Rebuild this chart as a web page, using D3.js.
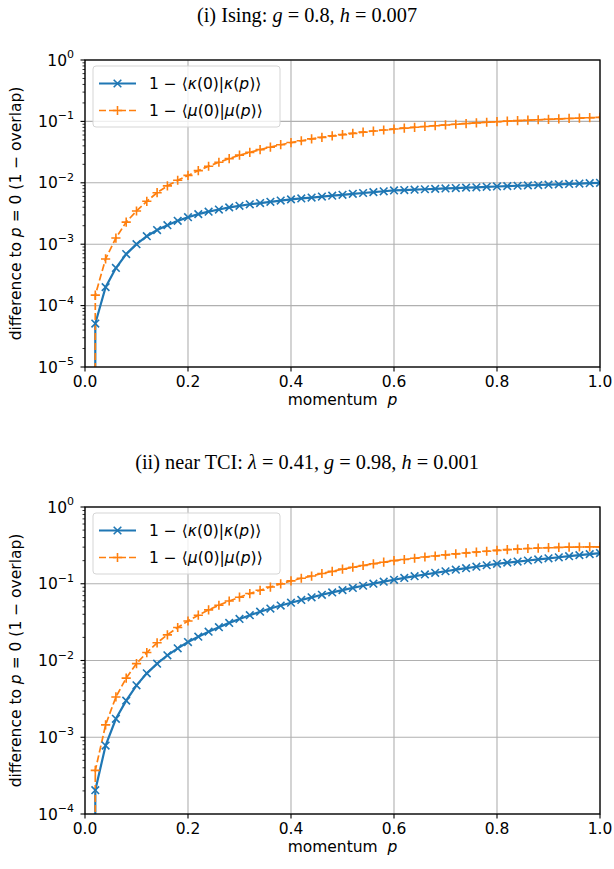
<!DOCTYPE html>
<html>
<head>
<meta charset="utf-8">
<script src="https://cdn.jsdelivr.net/npm/d3@7"></script>
<style>
  body { margin: 0; background: #fff; }
  svg { display: block; }
  text { font-family: "DejaVu Sans", sans-serif; }
  .ttl { font-family: "Liberation Serif", serif; }
</style>
</head>
<body>
<svg id="fig" width="614" height="869"></svg>
<script>
// momentum grid (p = 0 has difference 0, clipped on the log axis)
const momentum = [0, 0.02, 0.04, 0.06, 0.08, 0.10, 0.12, 0.14, 0.16, 0.18, 0.20,
  0.22, 0.24, 0.26, 0.28, 0.30, 0.32, 0.34, 0.36, 0.38, 0.40,
  0.42, 0.44, 0.46, 0.48, 0.50, 0.52, 0.54, 0.56, 0.58, 0.60,
  0.62, 0.64, 0.66, 0.68, 0.70, 0.72, 0.74, 0.76, 0.78, 0.80,
  0.82, 0.84, 0.86, 0.88, 0.90, 0.92, 0.94, 0.96, 0.98, 1.00]

// (i) Ising
const isingKappa = [0, 5.1e-5, 2.0e-4, 4.1e-4, 6.9e-4, 1.0e-3, 1.35e-3, 1.70e-3, 2.04e-3, 2.40e-3, 2.75e-3,
  3.09e-3, 3.39e-3, 3.67e-3, 3.98e-3, 4.22e-3, 4.47e-3, 4.68e-3, 4.90e-3, 5.13e-3, 5.37e-3,
  5.56e-3, 5.75e-3, 5.96e-3, 6.17e-3, 6.38e-3, 6.61e-3, 6.82e-3, 7.05e-3, 7.28e-3, 7.50e-3,
  7.62e-3, 7.73e-3, 7.85e-3, 7.96e-3, 8.09e-3, 8.20e-3, 8.34e-3, 8.45e-3, 8.59e-3, 8.71e-3,
  8.83e-3, 8.95e-3, 9.08e-3, 9.20e-3, 9.33e-3, 9.46e-3, 9.59e-3, 9.72e-3, 9.86e-3, 1.0e-2]
const isingMu = [0, 1.48e-4, 5.75e-4, 1.26e-3, 2.29e-3, 3.47e-3, 5.0e-3, 6.9e-3, 8.9e-3, 1.10e-2, 1.32e-2,
  1.58e-2, 1.86e-2, 2.16e-2, 2.48e-2, 2.82e-2, 3.13e-2, 3.47e-2, 3.80e-2, 4.17e-2, 4.52e-2,
  4.84e-2, 5.19e-2, 5.50e-2, 5.82e-2, 6.10e-2, 6.38e-2, 6.68e-2, 6.97e-2, 7.24e-2, 7.50e-2,
  7.76e-2, 8.02e-2, 8.26e-2, 8.51e-2, 8.75e-2, 8.99e-2, 9.23e-2, 9.46e-2, 9.68e-2, 9.89e-2,
  0.1009, 0.1028, 0.1047, 0.1064, 0.1081, 0.1099, 0.1117, 0.1132, 0.1148, 0.1161]

// (ii) near TCI
const tciKappa = [0, 2.04e-4, 7.8e-4, 1.74e-3, 3.0e-3, 4.75e-3, 6.8e-3, 9.1e-3, 1.17e-2, 1.44e-2, 1.74e-2,
  2.04e-2, 2.37e-2, 2.72e-2, 3.09e-2, 3.48e-2, 3.89e-2, 4.32e-2, 4.75e-2, 5.20e-2, 5.66e-2,
  6.15e-2, 6.65e-2, 7.18e-2, 7.71e-2, 8.26e-2, 8.83e-2, 9.42e-2, 0.1002, 0.1064, 0.1127,
  0.1191, 0.1256, 0.1321, 0.1387, 0.1455, 0.1524, 0.1596, 0.1667, 0.1742, 0.1820,
  0.1884, 0.1945, 0.2009, 0.2075, 0.2143, 0.2213, 0.2286, 0.2360, 0.2432, 0.2512]
const tciMu = [0, 3.7e-4, 1.45e-3, 3.35e-3, 5.9e-3, 9.1e-3, 1.27e-2, 1.70e-2, 2.16e-2, 2.69e-2, 3.27e-2,
  3.89e-2, 4.57e-2, 5.25e-2, 5.96e-2, 6.68e-2, 7.45e-2, 8.22e-2, 9.06e-2, 9.95e-2, 0.109,
  0.118, 0.126, 0.136, 0.145, 0.155, 0.164, 0.173, 0.182, 0.191, 0.200,
  0.207, 0.215, 0.223, 0.230, 0.238, 0.245, 0.252, 0.259, 0.265, 0.272,
  0.278, 0.283, 0.288, 0.292, 0.295, 0.298, 0.300, 0.301, 0.302, 0.302]

const xTicks = [0, 0.2, 0.4, 0.6, 0.8, 1.0]
const yExp1 = [0, -1, -2, -3, -4, -5]
const yExp2 = [0, -1, -2, -3, -4]

const blue = '#1f77b4', orange = '#ff7f0e'
const fs = 15.5
const svg = d3.select('#fig')

function drawPanel(top, title, exps, kappa, mu, id) {
  const left = 85, right = 600, bottom = top + 307
  const x = d3.scaleLinear().domain([0, 1]).range([left, right])
  const ymin = Math.pow(10, d3.min(exps)), ymax = Math.pow(10, d3.max(exps))
  const y = d3.scaleLog().domain([ymin, ymax]).range([bottom, top])

  // title
  const t = svg.append('text').attr('class', 'ttl')
    .attr('x', 307).attr('y', top - 38).attr('text-anchor', 'middle')
    .attr('font-size', 20.3)
  title.forEach(s => {
    t.append('tspan').attr('font-style', s.it ? 'italic' : null).text(s.t)
  })

  svg.append('clipPath').attr('id', id)
    .append('rect').attr('x', left).attr('y', top).attr('width', right - left).attr('height', bottom - top)

  const g = svg.append('g')

  // grid
  g.selectAll('.gx').data(xTicks).join('line')
    .attr('x1', d => x(d)).attr('x2', d => x(d)).attr('y1', top).attr('y2', bottom)
    .attr('stroke', '#b0b0b0').attr('stroke-width', 1.1)
  g.selectAll('.gy').data(exps).join('line')
    .attr('x1', left).attr('x2', right).attr('y1', d => y(Math.pow(10, d))).attr('y2', d => y(Math.pow(10, d)))
    .attr('stroke', '#b0b0b0').attr('stroke-width', 1.1)

  // curves
  const pts = (vals) => momentum.map((p, i) => [p, Math.max(vals[i], 1e-300)])
  const line = d3.line().x(d => x(d[0])).y(d => y(d[1]))
  const cg = g.append('g').attr('clip-path', `url(#${id})`)
  cg.append('path').datum(pts(kappa)).attr('d', line)
    .attr('fill', 'none').attr('stroke', blue).attr('stroke-width', 2.2)
  cg.append('path').datum(pts(mu)).attr('d', line)
    .attr('fill', 'none').attr('stroke', orange).attr('stroke-width', 1.7)
    .attr('stroke-dasharray', '7,3')

  const xMark = 'M-3.8,-3.8L3.8,3.8M-3.8,3.8L3.8,-3.8'
  const pMark = 'M-4.6,0L4.6,0M0,-4.6L0,4.6'
  cg.selectAll('.mk').data(pts(kappa).filter(d => d[1] > 1e-200)).join('path')
    .attr('d', xMark).attr('transform', d => `translate(${x(d[0])},${y(d[1])})`)
    .attr('stroke', blue).attr('stroke-width', 1.6).attr('fill', 'none')
  cg.selectAll('.mm').data(pts(mu).filter(d => d[1] > 1e-200)).join('path')
    .attr('d', pMark).attr('transform', d => `translate(${x(d[0])},${y(d[1])})`)
    .attr('stroke', orange).attr('stroke-width', 1.6).attr('fill', 'none')

  // ticks
  g.selectAll('.tx').data(xTicks).join('line')
    .attr('x1', d => x(d)).attr('x2', d => x(d)).attr('y1', bottom).attr('y2', bottom + 4.5)
    .attr('stroke', '#000').attr('stroke-width', 1.1)
  g.selectAll('.lx').data(xTicks).join('text')
    .attr('x', d => x(d)).attr('y', bottom + 20).attr('text-anchor', 'middle')
    .attr('font-size', fs).text(d => d.toFixed(1))
  g.selectAll('.ty').data(exps).join('line')
    .attr('x1', left - 4.5).attr('x2', left).attr('y1', d => y(Math.pow(10, d))).attr('y2', d => y(Math.pow(10, d)))
    .attr('stroke', '#000').attr('stroke-width', 1.1)
  const minors = []
  exps.slice(1).forEach(e => { for (let k = 2; k < 10; k++) minors.push(k * Math.pow(10, e)) })
  g.selectAll('.my').data(minors).join('line')
    .attr('x1', left - 2.5).attr('x2', left).attr('y1', d => y(d)).attr('y2', d => y(d))
    .attr('stroke', '#000').attr('stroke-width', 0.8)
  const yl = g.selectAll('.ly').data(exps).join('text')
    .attr('x', 74).attr('y', d => y(Math.pow(10, d)) + 5.5).attr('text-anchor', 'end')
    .attr('font-size', fs)
  yl.append('tspan').text('10')
  yl.append('tspan').attr('font-size', 11).attr('dy', -7.5).text(d => d === 0 ? '0' : '\u2212' + (-d))

  // frame
  g.append('rect').attr('x', left).attr('y', top).attr('width', right - left).attr('height', bottom - top)
    .attr('fill', 'none').attr('stroke', '#000').attr('stroke-width', 1.3)

  // axis labels
  const xl = g.append('text').attr('x', (left + right) / 2).attr('y', bottom + 38)
    .attr('text-anchor', 'middle').attr('font-size', fs).attr('xml:space', 'preserve')
  xl.append('tspan').text('momentum  ')
  xl.append('tspan').attr('font-style', 'italic').text('p')
  const ylab = g.append('text').attr('transform', `translate(21,${(top + bottom) / 2}) rotate(-90)`)
    .attr('text-anchor', 'middle').attr('font-size', fs)
  ylab.append('tspan').text('difference to ')
  ylab.append('tspan').attr('font-style', 'italic').text('p')
  ylab.append('tspan').text(' = 0 (1 \u2212 overlap)')

  // legend
  const lg = g.append('g')
  lg.append('rect').attr('x', 93).attr('y', top + 6).attr('width', 187).attr('height', 61).attr('rx', 3)
    .attr('fill', '#fff').attr('fill-opacity', 0.8).attr('stroke', '#d5d5d5').attr('stroke-width', 1)
  const rows = [
    { c: blue, dash: null, w: 2.2, m: xMark, s: 'κ' },
    { c: orange, dash: '7,3', w: 1.7, m: pMark, s: 'μ' }
  ]
  rows.forEach((r, i) => {
    const cy = top + 23.5 + i * 27
    lg.append('line').attr('x1', 99).attr('x2', 136).attr('y1', cy).attr('y2', cy)
      .attr('stroke', r.c).attr('stroke-width', r.w).attr('stroke-dasharray', r.dash)
    lg.append('path').attr('d', r.m).attr('transform', `translate(117.5,${cy})`)
      .attr('stroke', r.c).attr('stroke-width', 1.6).attr('fill', 'none')
    const tx = lg.append('text').attr('x', 149).attr('y', cy + 5.5).attr('font-size', fs)
    tx.append('tspan').text('1 \u2212 \u27e8')
    tx.append('tspan').attr('font-style', 'italic').text(r.s)
    tx.append('tspan').text('(0)|')
    tx.append('tspan').attr('font-style', 'italic').text(r.s)
    tx.append('tspan').text('(')
    tx.append('tspan').attr('font-style', 'italic').text('p')
    tx.append('tspan').text(')\u27e9')
  })
}

drawPanel(60, [{ t: '(i) Ising: ' }, { t: 'g', it: true }, { t: ' = 0.8, ' }, { t: 'h', it: true }, { t: ' = 0.007' }],
  yExp1, isingKappa, isingMu, 'clip1')
drawPanel(507, [{ t: '(ii) near TCI: ' }, { t: 'λ', it: true }, { t: ' = 0.41, ' }, { t: 'g', it: true }, { t: ' = 0.98, ' },
  { t: 'h', it: true }, { t: ' = 0.001' }], yExp2, tciKappa, tciMu, 'clip2')
</script>
</body>
</html>
